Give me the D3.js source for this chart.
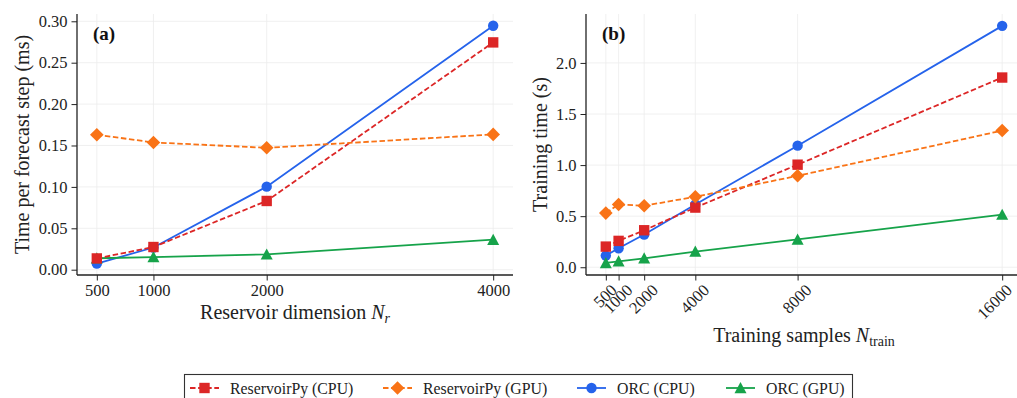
<!DOCTYPE html>
<html>
<head>
<meta charset="utf-8">
<script src="https://cdn.jsdelivr.net/npm/d3@7"></script>
<style>
  html, body { margin: 0; padding: 0; background: #fff; }
  svg { display: block; }
</style>
</head>
<body>
<div id="chart"></div>
<script>
// panel (a): time per forecast step vs reservoir dimension
const reservoirDims = [500, 1000, 2000, 4000];
const rpCpuStep = [0.0136, 0.0274, 0.0830, 0.2745];
const rpGpuStep = [0.1630, 0.1537, 0.1472, 0.1634];
const orcCpuStep = [0.0074, 0.0268, 0.1003, 0.2946];
const orcGpuStep = [0.0138, 0.0153, 0.0185, 0.0362];
const stepTicks = [0, 0.05, 0.1, 0.15, 0.2, 0.25, 0.3];

// panel (b): training time vs training samples
const trainSamples = [500, 1000, 2000, 4000, 8000, 16000];
const rpCpuTrain = [0.202, 0.258, 0.362, 0.584, 1.004, 1.857];
const rpGpuTrain = [0.530, 0.614, 0.602, 0.690, 0.895, 1.338];
const orcCpuTrain = [0.114, 0.186, 0.320, 0.615, 1.190, 2.363];
const orcGpuTrain = [0.042, 0.058, 0.087, 0.153, 0.272, 0.515];
const trainTicks = [0, 0.5, 1.0, 1.5, 2.0];

const seriesNames = ["ReservoirPy (CPU)", "ReservoirPy (GPU)", "ORC (CPU)", "ORC (GPU)"];

const style = {
  "ReservoirPy (CPU)": {color: "#dc2626", dash: "5.5,2.6", marker: "square"},
  "ReservoirPy (GPU)": {color: "#f97316", dash: "5.5,2.6", marker: "diamond"},
  "ORC (CPU)": {color: "#2563eb", dash: null, marker: "circle"},
  "ORC (GPU)": {color: "#16a34a", dash: null, marker: "triangle"},
};
// draw order seen in the picture (later = on top)
const drawOrder = ["ORC (CPU)", "ORC (GPU)", "ReservoirPy (CPU)", "ReservoirPy (GPU)"];

function markerPath(kind) {
  if (kind === "square") return "M-5.2,-5.2H5.2V5.2H-5.2Z";
  if (kind === "diamond") return "M0,-6.8L6.8,0L0,6.8L-6.8,0Z";
  if (kind === "triangle") return "M0,-6L6,5.2L-6,5.2Z";
  return d3.symbol(d3.symbolCircle, Math.PI * 5.2 * 5.2)();
}

const W = 1017, H = 398;
const svg = d3.select("#chart").append("svg")
  .attr("width", W).attr("height", H)
  .attr("font-family", "'Liberation Serif', 'DejaVu Serif', serif");

function panel({x, y, xTicks, yTicks, yFmt, series, label, rotateX, yLabel, xLabel}) {
  const g = svg.append("g");
  const [x0, x1] = x.range();
  const [y0, y1] = y.range();

  // grid
  g.append("g").selectAll("line").data(yTicks).join("line")
    .attr("x1", x0).attr("x2", x1)
    .attr("y1", (d) => y(d)).attr("y2", (d) => y(d))
    .attr("stroke", "#ececec").attr("stroke-width", 0.8);
  g.append("g").selectAll("line").data(xTicks).join("line")
    .attr("y1", y0).attr("y2", y1)
    .attr("x1", (d) => x(d)).attr("x2", (d) => x(d))
    .attr("stroke", "#ececec").attr("stroke-width", 0.8);

  // series
  for (const name of drawOrder) {
    const s = style[name];
    const pts = series[name];
    g.append("path")
      .datum(pts)
      .attr("fill", "none")
      .attr("stroke", s.color)
      .attr("stroke-width", 1.8)
      .attr("stroke-dasharray", s.dash)
      .attr("d", d3.line((d) => x(d[0]), (d) => y(d[1])));
    g.append("g").selectAll("path").data(pts).join("path")
      .attr("transform", (d) => `translate(${x(d[0])},${y(d[1])})`)
      .attr("d", markerPath(s.marker))
      .attr("fill", s.color);
  }

  // axes
  const ax = g.append("g").attr("transform", `translate(0,${y0})`)
    .call(d3.axisBottom(x).tickValues(xTicks).tickSize(5.5).tickPadding(4).tickFormat(d3.format("d")));
  const ay = g.append("g").attr("transform", `translate(${x0},0)`)
    .call(d3.axisLeft(y).tickValues(yTicks).tickSize(5.5).tickPadding(4).tickFormat(yFmt));
  for (const a of [ax, ay]) {
    a.attr("font-family", null).attr("font-size", null);
    a.select(".domain").attr("stroke", "#222").attr("stroke-width", 1.3);
    a.selectAll(".tick line").attr("stroke", "#222").attr("stroke-width", 1);
    a.selectAll(".tick text").attr("font-size", 16.5).attr("fill", "#222");
  }
  // left and bottom spines only, without end caps
  ax.select(".domain").attr("d", `M${x0},0H${x1}`);
  ay.select(".domain").attr("d", `M0,${y0}V${y1}`);

  if (rotateX) {
    ax.selectAll(".tick text").each(function() {
      const t = d3.select(this);
      const len = this.getComputedTextLength();
      const half = (len + 11) * 0.7071 / 2;
      t.attr("y", null).attr("dy", "0.32em").attr("text-anchor", "middle")
        .attr("transform", `translate(-1,${8.5 + half}) rotate(-45)`);
      // keep the last label inside the picture edge
      const over = this.getBoundingClientRect().right - (W - 1);
      if (over > 0) t.attr("transform", `translate(${-1 - over},${8.5 + half}) rotate(-45)`);
    });
  }

  g.append("text")
    .attr("x", x0 + 16).attr("y", y1 + 26)
    .attr("font-size", 19).attr("font-weight", "bold").attr("fill", "#111")
    .text(label);

  g.append("text")
    .attr("transform", `translate(${yLabel.x},${(y0 + y1) / 2}) rotate(-90)`)
    .attr("text-anchor", "middle").attr("dy", "0.35em")
    .attr("font-size", 20).attr("fill", "#222")
    .text(yLabel.text);

  const xl = g.append("text")
    .attr("x", (x0 + x1) / 2).attr("y", xLabel.y)
    .attr("text-anchor", "middle")
    .attr("font-size", 20).attr("fill", "#222");
  xl.append("tspan").text(xLabel.text + " ");
  xl.append("tspan").attr("font-style", "italic").text("N");
  xl.append("tspan").attr("font-size", 14).attr("dy", 4).attr("font-style", xLabel.subItalic ? "italic" : null).text(xLabel.sub);
}

const zip = (xs, ys) => xs.map((v, i) => [v, ys[i]]);

panel({
  x: d3.scaleLinear().domain([325, 4175]).range([77, 513]),
  y: d3.scaleLinear().domain([-0.0064, 0.3088]).range([275, 14]),
  xTicks: reservoirDims,
  yTicks: stepTicks,
  yFmt: d3.format(".2f"),
  series: {
    "ReservoirPy (CPU)": zip(reservoirDims, rpCpuStep),
    "ReservoirPy (GPU)": zip(reservoirDims, rpGpuStep),
    "ORC (CPU)": zip(reservoirDims, orcCpuStep),
    "ORC (GPU)": zip(reservoirDims, orcGpuStep),
  },
  label: "(a)",
  rotateX: false,
  yLabel: {x: 22, text: "Time per forecast step (ms)"},
  xLabel: {y: 319, text: "Reservoir dimension", sub: "r", subItalic: true},
});

panel({
  x: d3.scaleLinear().domain([-275, 16775]).range([586, 1022]),
  y: d3.scaleLinear().domain([-0.076, 2.479]).range([275, 14]),
  xTicks: trainSamples,
  yTicks: trainTicks,
  yFmt: d3.format(".1f"),
  series: {
    "ReservoirPy (CPU)": zip(trainSamples, rpCpuTrain),
    "ReservoirPy (GPU)": zip(trainSamples, rpGpuTrain),
    "ORC (CPU)": zip(trainSamples, orcCpuTrain),
    "ORC (GPU)": zip(trainSamples, orcGpuTrain),
  },
  label: "(b)",
  rotateX: true,
  yLabel: {x: 540, text: "Training time (s)"},
  xLabel: {y: 342, text: "Training samples", sub: "train", subItalic: false},
});

// legend
const leg = svg.append("g");
leg.append("rect")
  .attr("x", 184.5).attr("y", 374.5).attr("width", 668).attr("height", 30)
  .attr("fill", "#fff").attr("stroke", "#333").attr("stroke-width", 1.1);
const legendX = [190, 383, 577, 726];
const items = leg.selectAll("g.item").data(seriesNames).join("g")
  .attr("class", "item")
  .attr("transform", (d, i) => `translate(${legendX[i]},388)`);
items.append("line")
  .attr("x1", 0).attr("x2", 29)
  .attr("stroke", (d) => style[d].color).attr("stroke-width", 1.8)
  .attr("stroke-dasharray", (d) => style[d].dash);
items.append("path")
  .attr("transform", "translate(14.5,0)")
  .attr("d", (d) => markerPath(style[d].marker))
  .attr("fill", (d) => style[d].color);
items.append("text")
  .attr("x", 40).attr("dy", "0.35em")
  .attr("font-size", 15.8).attr("fill", "#222")
  .text((d) => d);
</script>
</body>
</html>
